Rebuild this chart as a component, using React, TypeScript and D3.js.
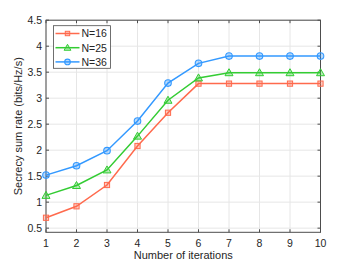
import React from "react";
import * as d3 from "d3";

const iterations = [1, 2, 3, 4, 5, 6, 7, 8, 9, 10];
const n16 = [0.70, 0.92, 1.33, 2.08, 2.72, 3.28, 3.28, 3.28, 3.28, 3.28];
const n25 = [1.13, 1.32, 1.62, 2.27, 2.96, 3.39, 3.49, 3.49, 3.49, 3.49];
const n36 = [1.52, 1.70, 1.99, 2.56, 3.29, 3.67, 3.81, 3.81, 3.81, 3.81];
const seriesNames = ["N=16", "N=25", "N=36"];
const seriesColors = ["#FF6A4D", "#33CC33", "#3399FF"];
const markers = ["square", "triangle", "circle"];
const yTicks = [0.5, 1, 1.5, 2, 2.5, 3, 3.5, 4, 4.5];
const xTicks = iterations;

const W = 354, H = 266;
const L = 46, R = 320.5, T = 20.2, B = 232.3;
const font = "'Liberation Sans', Arial, Helvetica, sans-serif";

function Marker({ type, x, y, color, k = 1 }: { type: string; x: number; y: number; color: string; k?: number }) {
  const fill = d3.color(color)!.copy({ opacity: 0.35 }).toString();
  if (type === "square") {
    const h = 2.6 * k;
    return <rect x={x - h} y={y - h} width={2 * h} height={2 * h} fill={fill} stroke={color} strokeWidth={1} />;
  }
  if (type === "triangle") {
    const s = 4 * k;
    return (
      <polygon
        points={`${x},${y - s} ${x - s},${y + s * 0.75} ${x + s},${y + s * 0.75}`}
        fill={fill}
        stroke={color}
        strokeWidth={1}
      />
    );
  }
  return <circle cx={x} cy={y} r={3.3 * k} fill={fill} stroke={color} strokeWidth={1.1} />;
}

export default function App() {
  const x = d3.scaleLinear().domain([1, 10]).range([L, R]);
  const y = d3.scaleLinear().domain([0.42, 4.5]).range([B, T]);
  const data = [n16, n25, n36];
  const line = d3
    .line<number>()
    .x((_, i) => x(iterations[i]))
    .y((d) => y(d));
  const axisColor = "#4d4d4d";
  const textColor = "#262626";

  return (
    <svg width={W} height={H} style={{ position: "absolute", left: 0, top: 0, background: "#fff" }}>
      <rect x={0} y={0} width={W} height={H} fill="#fff" />
      {xTicks.map((t) => (
        <line key={"gx" + t} x1={x(t)} x2={x(t)} y1={T} y2={B} stroke="#e6e6e6" strokeWidth={1} />
      ))}
      {yTicks.map((t) => (
        <line key={"gy" + t} x1={L} x2={R} y1={y(t)} y2={y(t)} stroke="#e6e6e6" strokeWidth={1} />
      ))}
      {xTicks.map((t) => (
        <g key={"tx" + t}>
          <line x1={x(t)} x2={x(t)} y1={B} y2={B - 3} stroke={axisColor} />
          <line x1={x(t)} x2={x(t)} y1={T} y2={T + 3} stroke={axisColor} />
          <text x={x(t)} y={B + 14.5} textAnchor="middle" fontSize={10.5} fontFamily={font} fill={textColor}>
            {t}
          </text>
        </g>
      ))}
      {yTicks.map((t) => (
        <g key={"ty" + t}>
          <line x1={L} x2={L + 3} y1={y(t)} y2={y(t)} stroke={axisColor} />
          <line x1={R} x2={R - 3} y1={y(t)} y2={y(t)} stroke={axisColor} />
          <text x={L - 4} y={y(t) + 3.7} textAnchor="end" fontSize={10.5} fontFamily={font} fill={textColor}>
            {t}
          </text>
        </g>
      ))}
      <rect x={L} y={T} width={R - L} height={B - T} fill="none" stroke={axisColor} strokeWidth={1} />
      {data.map((s, si) => (
        <g key={"s" + si}>
          <path d={line(s) || ""} fill="none" stroke={seriesColors[si]} strokeWidth={1.5} />
          {s.map((v, i) => (
            <Marker key={i} type={markers[si]} x={x(iterations[i])} y={y(v)} color={seriesColors[si]} />
          ))}
        </g>
      ))}
      <rect x={53.5} y={25.7} width={57} height={42.6} fill="#fff" stroke={axisColor} strokeWidth={0.8} />
      {seriesNames.map((n, i) => {
        const ly = 33.5 + i * 14.2;
        return (
          <g key={"lg" + i}>
            <line x1={55.5} x2={79.5} y1={ly} y2={ly} stroke={seriesColors[i]} strokeWidth={1.5} />
            <Marker type={markers[i]} x={67.5} y={ly} color={seriesColors[i]} k={0.85} />
            <text x={81.5} y={ly + 3.8} fontSize={10.5} fontFamily={font} fill={textColor}>
              {n}
            </text>
          </g>
        );
      })}
      <text x={(L + R) / 2} y={259} textAnchor="middle" fontSize={11} fontFamily={font} fill={textColor}>
        Number of iterations
      </text>
      <text
        transform={`translate(22, ${(T + B) / 2}) rotate(-90)`}
        textAnchor="middle"
        fontSize={11}
        fontFamily={font}
        fill={textColor}
      >
        Secrecy sum rate (bits/Hz/s)
      </text>
    </svg>
  );
}
